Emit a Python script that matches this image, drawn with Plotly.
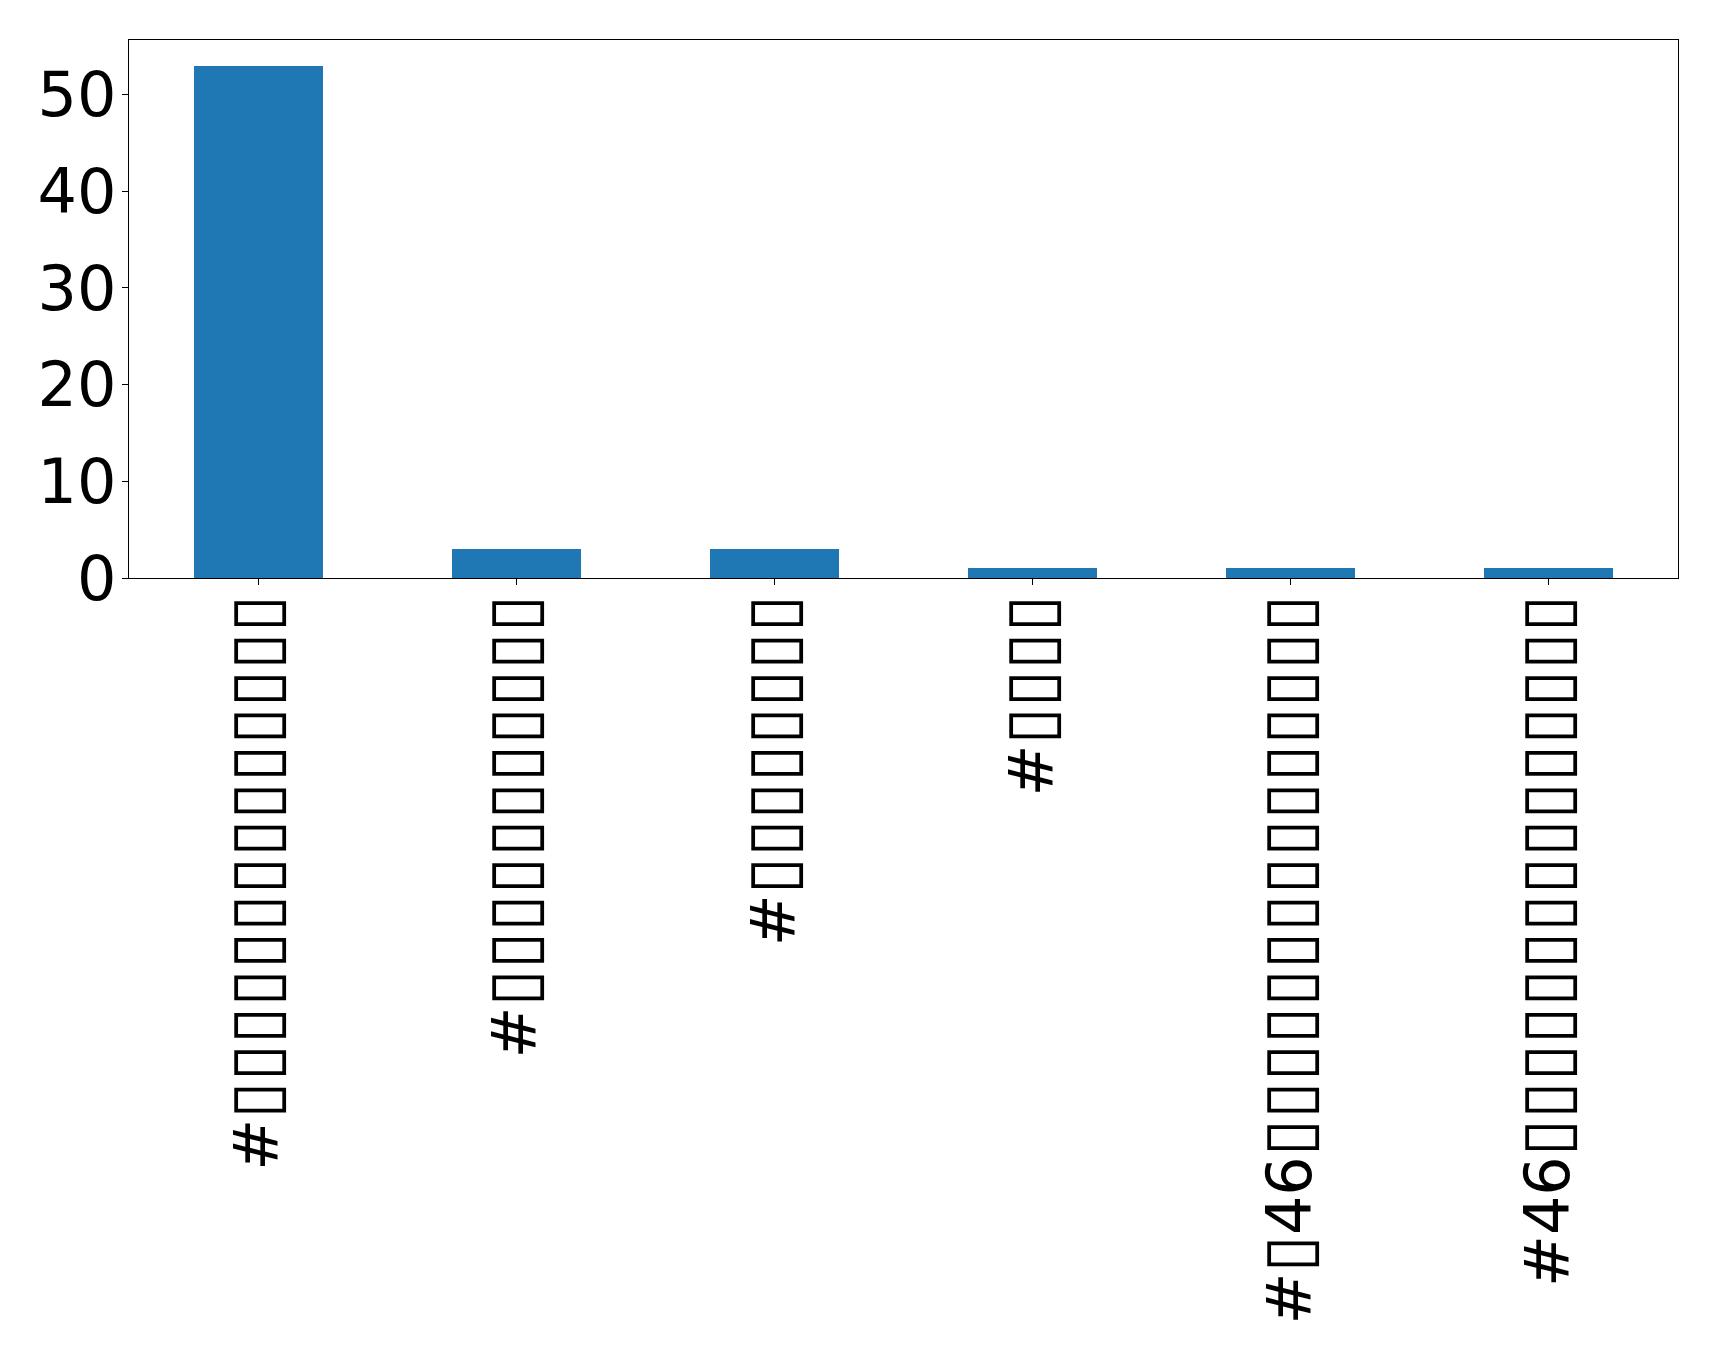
import plotly.graph_objects as go

B = "\u25AF"
def boxes(n):
    return '<span style="font-size:68px">' + B * n + "</span>"

categories = [
    "#" + boxes(14),
    "#" + boxes(11),
    "#" + boxes(8),
    "#" + boxes(4),
    "#" + boxes(1) + "46" + boxes(15),
    "#46" + boxes(15),
]
counts = [53, 3, 3, 1, 1, 1]
y_ticks = [0, 10, 20, 30, 40, 50]

fig = go.Figure(go.Bar(
    x=list(range(len(categories))), y=counts, width=0.5,
    marker=dict(color="#1f77b4", line=dict(width=0)),
))

W, H = 1719, 1360
fig.update_layout(
    width=W, height=H,
    margin=dict(l=121, r=49, t=32, b=790, pad=0),
    plot_bgcolor="white", paper_bgcolor="white",
    font=dict(family="DejaVu Sans", size=62, color="black"),
    showlegend=False,
    bargap=0,
)
fig.update_xaxes(
    range=[-0.5, len(categories) - 0.5],
    tickmode="array", tickvals=list(range(len(categories))), ticktext=categories,
    tickangle=-90, ticks="outside", ticklen=6, tickwidth=1.2, tickcolor="black",
    ticklabelstandoff=-15,
    showline=True, linecolor="black", linewidth=1.2, mirror=True,
    showgrid=False, zeroline=False, automargin=False,
)
fig.update_yaxes(
    range=[0, 55.65],
    tickmode="array", tickvals=y_ticks, ticktext=[str(v) for v in y_ticks],
    ticks="outside", ticklen=6, tickwidth=1.2, tickcolor="black",
    ticklabelstandoff=-7,
    showline=True, linecolor="black", linewidth=1.2, mirror=True,
    showgrid=False, zeroline=False, automargin=False,
)
fig.write_html("out.html")
